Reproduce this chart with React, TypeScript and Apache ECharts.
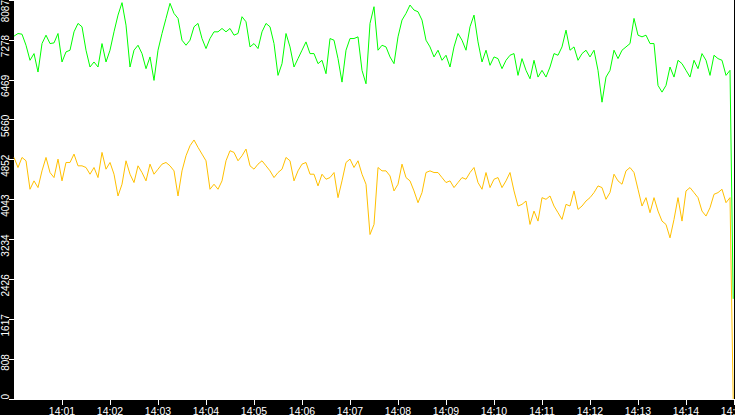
import * as echarts from 'echarts';
import { useEffect, useRef } from 'react';

// one reading every 5 s from 14:00:00; the feed ends with a drop just before 14:15
const sampleSeconds = 5;
const endSecond = 899;

const greenValues = [
  7354, 7408, 7394, 7170, 6865, 7001, 6627, 7204, 7374, 7204,
  7218, 7408, 6831, 7035, 7069, 7442, 7612, 7544, 7069, 6729,
  6831, 6729, 7204, 6831, 7069, 7442, 7781, 8033, 7578, 6729,
  7069, 7170, 7001, 6695, 6933, 6457, 7069, 7408, 7714, 8019,
  7815, 7714, 7272, 7170, 7272, 7544, 7612, 7306, 7103, 7306,
  7442, 7442, 7510, 7442, 7510, 7374, 7408, 7748, 7646, 7136,
  7204, 7103,
  7442, 7612, 7544, 7204, 6559, 6797, 7408, 7136, 6729, 6899,
  7069, 7238, 7001, 7001, 6797, 6865, 6593, 7306, 7272, 6899,
  6423, 7069, 7306, 7306, 7340, 6661, 6389, 7612, 7951, 7069,
  7170, 7136, 6933, 6797, 7340, 7680, 7815, 7985, 7883, 7849,
  7680, 7272, 7136, 6933, 7069, 6865, 6967, 6729, 7136, 7408,
  7272, 7069, 7544, 7781, 7238, 6831, 7069, 6763, 6933, 6899,
  6695,
  6865, 6967, 7001, 6559, 6899, 6661, 6491, 6865, 6525, 6661,
  6525, 6729, 7001, 6967, 7136, 7476, 7069, 7136, 6865, 7001,
  7069, 6933, 7069, 6661, 6016, 6525, 6661, 7069, 6899, 7069,
  7136, 7204, 7714, 7374, 7340, 7374, 7204, 7204, 6356, 6220,
  6356, 6729, 6525, 6865, 6797, 6661, 6525, 6865, 6695, 7001,
  6865, 6559, 6967, 6899, 6865, 6559, 6661,
];
const greenEnd = 2030;

const yellowValues = [
  4896, 4692, 4896, 4828, 4251, 4421, 4285, 4624, 4896, 4590,
  4488, 4862, 4421, 4794, 4794, 4964, 4726, 4726, 4692, 4556,
  4692, 4488, 4998, 4658, 4794, 4556, 4115, 4353, 4828, 4556,
  4387, 4726, 4590, 4421, 4760, 4556, 4658, 4760, 4794, 4726,
  4624, 4115, 4624, 4930, 5133, 5250, 5100, 4964, 4828, 4251,
  4353, 4251, 4421, 4828, 5032, 4998, 4828, 4930, 5066, 4726,
  4658, 4760,
  4828, 4726, 4624, 4488, 4590, 4658, 4896, 4828, 4421, 4624,
  4760, 4794, 4556, 4556, 4319, 4556, 4454, 4488, 4590, 4081,
  4421, 4794, 4862, 4692, 4828, 4556, 4353, 3334, 3538, 4692,
  4624, 4624, 4522, 4217, 4353, 4760, 4488, 4421, 4217, 3979,
  4183, 4590, 4624, 4590, 4590, 4488, 4387, 4421, 4285, 4387,
  4488, 4454, 4590, 4692, 4387, 4251, 4590, 4285, 4454, 4488,
  4285,
  4421, 4590, 4217, 3911, 3945, 4013, 3538, 3809, 3606, 4081,
  4047, 4115, 3911, 3776, 3640, 3945, 3911, 4217, 3843, 3911,
  4013, 4081, 4183, 4319, 4285, 4047, 4183, 4556, 4421, 4353,
  4624, 4692, 4590, 4251, 3911, 4081, 3776, 4081, 3809, 3606,
  3538, 3266, 3640, 4081, 3606, 4217, 4285, 4183, 4081, 3809,
  3708, 3877, 4149, 4183, 4251, 3979, 4081,
];
const yellowEnd = 0;

const xTickLabels = [
  '14:01', '14:02', '14:03', '14:04', '14:05', '14:06', '14:07', '14:08',
  '14:09', '14:10', '14:11', '14:12', '14:13', '14:14', '14:15',
];
const yMax = 8087;
const ySteps = 10;

const xTickValues = xTickLabels.map((_, i) => (i + 1) * 60);

function toSeries(values: number[], last: number) {
  const data = values.map((v, i) => [i * sampleSeconds, v]);
  data.push([endSecond, last]);
  return data;
}

const labelFont = 'Liberation Sans, Arial, sans-serif';

function buildOption() {
  return {
    animation: false,
    backgroundColor: '#000',
    grid: {
      left: 14,
      right: 1,
      top: 0,
      bottom: 16,
      show: true,
      backgroundColor: '#fff',
      borderWidth: 0,
      containLabel: false,
      outerBoundsMode: 'none',
    },
    xAxis: {
      type: 'value',
      min: 0,
      max: 900,
      axisLine: { show: true, lineStyle: { color: '#fff', width: 1 } },
      axisTick: { show: true, length: 6, customValues: xTickValues, lineStyle: { color: '#fff' } },
      axisLabel: {
        customValues: xTickValues,
        color: '#fff',
        fontFamily: labelFont,
        fontSize: 10.5,
        margin: 6,
        hideOverlap: false,
        formatter: (v: number) => xTickLabels[Math.round(v / 60) - 1] ?? '',
      },
      splitLine: { show: false },
    },
    yAxis: {
      type: 'value',
      min: 0,
      max: yMax,
      interval: yMax / ySteps,
      axisLine: { show: false },
      axisTick: { show: true, length: 5, lineStyle: { color: '#fff' } },
      axisLabel: {
        rotate: 90,
        align: 'right',
        verticalAlign: 'middle',
        padding: [0, -5, 0, 0],
        margin: 9,
        color: '#fff',
        fontFamily: labelFont,
        fontSize: 10,
        formatter: (v: number) => {
          const text = String(Math.floor(v + 1e-6));
          // the top label is pushed down so it stays inside the chart
          return v >= yMax - 1e-6 ? `{top|${text}}` : text;
        },
        rich: {
          top: {
            color: '#fff',
            fontFamily: labelFont,
            fontSize: 10,
            padding: [0, 5, 0, 0],
          },
        },
      },
      splitLine: { show: false },
    },
    series: [
      {
        name: 'green',
        type: 'line',
        showSymbol: false,
        lineStyle: { color: '#00ff00', width: 1 },
        data: toSeries(greenValues, greenEnd),
      },
      {
        name: 'yellow',
        type: 'line',
        showSymbol: false,
        lineStyle: { color: '#ffc000', width: 1 },
        data: toSeries(yellowValues, yellowEnd),
      },
    ],
  };
}

export default function App() {
  const ref = useRef<HTMLDivElement | null>(null);

  useEffect(() => {
    if (!ref.current) return;
    const chart = echarts.init(ref.current, undefined, { renderer: 'svg' });
    chart.setOption(buildOption());
    return () => chart.dispose();
  }, []);

  return <div ref={ref} style={{ position: 'absolute', left: 0, top: 0, width: 735, height: 415 }} />;
}
